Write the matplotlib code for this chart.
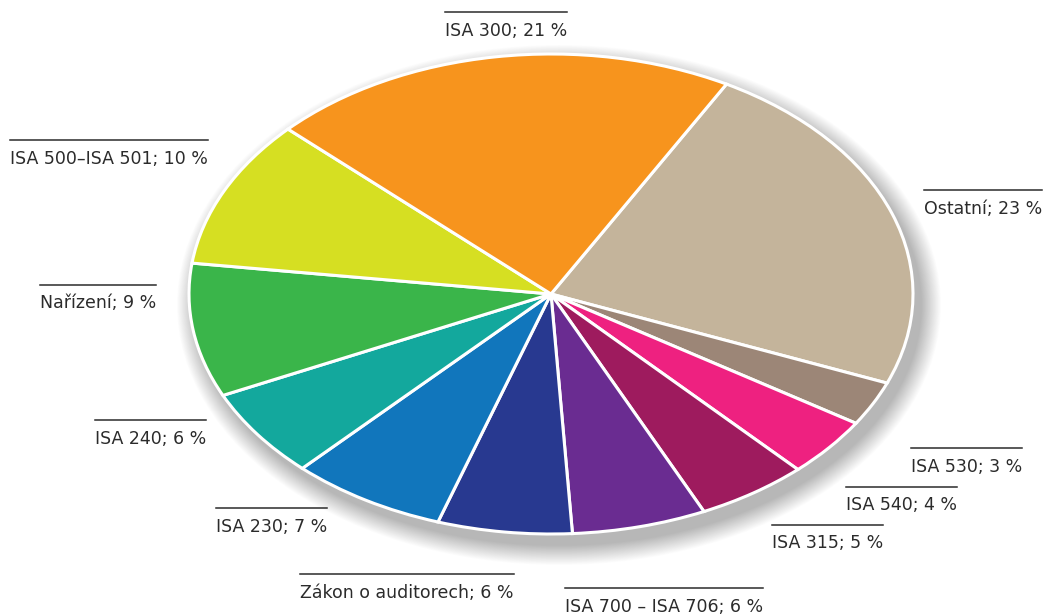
import matplotlib
matplotlib.use('Agg')
import matplotlib.pyplot as plt
from matplotlib.patches import Ellipse
from matplotlib.lines import Line2D

categories = ['Ostatní', 'ISA 530', 'ISA 540', 'ISA 315', 'ISA 700 – ISA 706',
              'Zákon o auditorech', 'ISA 230', 'ISA 240', 'Nařízení',
              'ISA 500–ISA 501', 'ISA 300']
values = [23, 3, 4, 5, 6, 6, 7, 6, 9, 10, 21]
colors = ['#C4B49B', '#9C8677', '#EE2180', '#9E1B5E', '#6A2C91', '#283990',
          '#1176BC', '#13A89D', '#3AB54A', '#D6DF22', '#F7941D']
# label anchor: (left x, overline y) in pixels
label_x = [924, 911, 846, 772, 565, 300, 216, 95, 40, 10, 445]
label_y = [190, 448, 487, 525, 588, 574, 508, 420, 285, 140, 12]

W, H = 1045, 615
fig = plt.figure(figsize=(W / 100, H / 100), dpi=100)
bg = fig.add_axes([0, 0, 1, 1], zorder=0)
bg.set_xlim(0, W)
bg.set_ylim(H, 0)
bg.axis('off')

cx, cy, rx, ry = 551, 294, 362, 240

# soft shadow
n = 24
for i in range(n):
    k = 20 * (1 - i / n)
    bg.add_patch(Ellipse((cx + 8, cy + 11), 2 * rx + 2 * k, 2 * ry + 2 * k,
                         facecolor='black', edgecolor='none', alpha=0.011))

pa = fig.add_axes([(cx - rx) / W, (H - cy - ry) / H, 2 * rx / W, 2 * ry / H], zorder=1)
pa.pie(values, colors=colors, startangle=61, counterclock=False,
       wedgeprops=dict(edgecolor='white', linewidth=2.2))
pa.set_aspect('auto')
pa.set_xlim(-1, 1)
pa.set_ylim(-1, 1)
pa.axis('off')

fig.canvas.draw()
renderer = fig.canvas.get_renderer()
for cat, val, x, y in zip(categories, values, label_x, label_y):
    t = bg.text(x, y + 23.5, f'{cat}; {val} %', ha='left', va='baseline',
                fontsize=12.5, color='#2b2b2b', fontfamily='DejaVu Sans')
    bb = t.get_window_extent(renderer)
    wpx = bb.width
    bg.add_line(Line2D([x, x + wpx], [y, y], color='#2b2b2b', linewidth=1.1))

fig.savefig('out.png', dpi=100)
